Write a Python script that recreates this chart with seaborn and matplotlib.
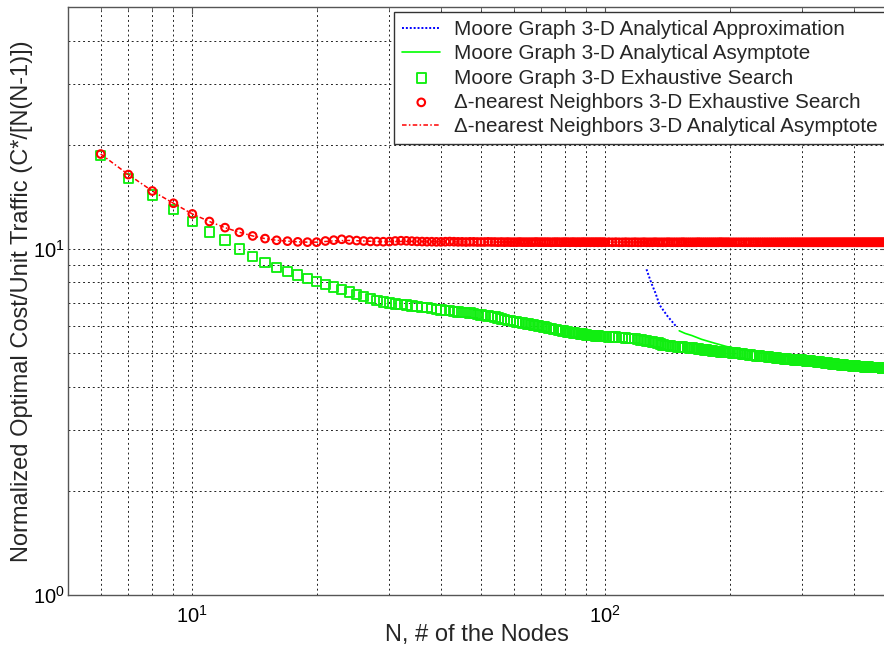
import numpy as np
import matplotlib
matplotlib.use("Agg")
import matplotlib.pyplot as plt
import seaborn as sns
from matplotlib.ticker import LogLocator, NullFormatter, LogFormatterSciNotation

sns.set_theme(style="white")
plt.rcParams["font.family"] = ["Liberation Sans", "DejaVu Sans"]
plt.rcParams["mathtext.fontset"] = "custom"
plt.rcParams["mathtext.rm"] = "Liberation Sans"
plt.rcParams["mathtext.default"] = "regular"

# ---- data -------------------------------------------------------------
# network sizes evaluated by the exhaustive search
nodes = np.concatenate([np.arange(6, 101), np.arange(102, 201, 2), np.arange(203, 480, 3)])

# Moore graph, 3-D, exhaustive search
moore_search = [
    18.6, 16.0, 14.3, 13.0, 12.0, 11.2, 10.6, 10.0, 9.52, 9.15,
    8.85, 8.62, 8.40, 8.21, 8.05, 7.90, 7.76, 7.63, 7.51, 7.38,
    7.29, 7.18, 7.09, 7.02, 6.97,
    6.94, 6.90, 6.88, 6.84, 6.81, 6.78, 6.76, 6.72, 6.69, 6.66,
    6.64, 6.63, 6.60, 6.58, 6.56, 6.54, 6.52, 6.50, 6.47, 6.44,
    6.42, 6.40, 6.38, 6.35, 6.31, 6.28, 6.25, 6.22, 6.20, 6.17,
    6.15, 6.13, 6.11, 6.09, 6.07, 6.05, 6.03, 6.01, 5.98, 5.96,
    5.94, 5.92, 5.90, 5.88, 5.86, 5.84, 5.82, 5.80, 5.79, 5.77,
    5.76, 5.74, 5.73, 5.72, 5.70, 5.69, 5.68, 5.67, 5.65, 5.64,
    5.63, 5.62, 5.62, 5.61, 5.60, 5.60, 5.59, 5.59, 5.58, 5.58,
    # 102 .. 200
    5.57, 5.56, 5.56, 5.55, 5.54, 5.53, 5.52, 5.51, 5.50, 5.48,
    5.46, 5.44, 5.42, 5.40, 5.38, 5.36, 5.34, 5.31, 5.28, 5.26,
    5.25, 5.24, 5.23, 5.22, 5.21, 5.21, 5.20, 5.19, 5.18, 5.17,
    5.17, 5.16, 5.15, 5.14, 5.13, 5.12, 5.11, 5.10, 5.09, 5.08,
    5.07, 5.06, 5.05, 5.05, 5.04, 5.04, 5.03, 5.03, 5.02, 5.02,
    # 203 .. 479
    5.01, 5.00, 4.99, 4.98, 4.97, 4.96, 4.95, 4.94, 4.93, 4.92,
    4.91, 4.90, 4.89, 4.89, 4.88, 4.87, 4.86, 4.85, 4.85, 4.84,
    4.83, 4.83, 4.82, 4.81, 4.81, 4.80, 4.80, 4.79, 4.78, 4.78,
    4.77, 4.77, 4.77, 4.76, 4.76, 4.75, 4.74, 4.74, 4.73, 4.73,
    4.72, 4.71, 4.71, 4.70, 4.70, 4.69, 4.68, 4.68, 4.67, 4.66,
    4.66, 4.65, 4.65, 4.64, 4.64, 4.63, 4.63, 4.62, 4.62, 4.61,
    4.61, 4.61, 4.60, 4.60, 4.60, 4.59, 4.59, 4.59, 4.58, 4.58,
    4.58, 4.57, 4.57, 4.57, 4.56, 4.56, 4.56, 4.56, 4.55, 4.55,
    4.55, 4.55, 4.55, 4.54, 4.54, 4.54, 4.54, 4.54, 4.53, 4.53,
    4.53, 4.53, 4.53,
]

# Delta-nearest neighbors, 3-D, exhaustive search
nearest_search = [
    18.8, 16.4, 14.7, 13.55, 12.62, 12.0, 11.52, 11.17, 10.90, 10.71,
    10.59, 10.53, 10.48, 10.46, 10.46, 10.54, 10.60, 10.66, 10.61, 10.57,
    10.54, 10.51, 10.50, 10.49, 10.50, 10.54, 10.56, 10.55, 10.53, 10.51,
    10.50, 10.49, 10.49, 10.48, 10.48, 10.49, 10.50, 10.49, 10.48, 10.48,
    10.47, 10.48, 10.48, 10.47, 10.47, 10.47, 10.48, 10.47, 10.47, 10.46,
    10.47, 10.46, 10.47, 10.46, 10.46, 10.46, 10.47, 10.46, 10.46, 10.46,
    10.46, 10.46, 10.47, 10.46, 10.46, 10.46, 10.46, 10.46, 10.45, 10.46,
    10.46, 10.46, 10.45, 10.46, 10.46, 10.46, 10.45, 10.46, 10.46, 10.45,
    10.46, 10.45, 10.46, 10.46, 10.45, 10.46, 10.45, 10.46, 10.45, 10.46,
    10.45, 10.46, 10.45, 10.46, 10.45,
    # 102 .. 200
    10.46, 10.45, 10.46, 10.45, 10.45, 10.46, 10.45, 10.45, 10.46, 10.45,
    10.45, 10.46, 10.45, 10.45, 10.45, 10.46, 10.45, 10.45, 10.45, 10.45,
    10.46, 10.45, 10.45, 10.45, 10.45, 10.45, 10.46, 10.45, 10.45, 10.45,
    10.45, 10.45, 10.45, 10.46, 10.45, 10.45, 10.45, 10.45, 10.45, 10.45,
    10.45, 10.45, 10.45, 10.45, 10.46, 10.45, 10.45, 10.45, 10.45, 10.45,
    # 203 .. 479
    10.45, 10.45, 10.45, 10.45, 10.45, 10.45, 10.45, 10.45, 10.45, 10.45,
    10.45, 10.45, 10.45, 10.45, 10.45, 10.45, 10.45, 10.45, 10.45, 10.45,
    10.45, 10.45, 10.45, 10.45, 10.45, 10.45, 10.45, 10.45, 10.45, 10.45,
    10.45, 10.45, 10.45, 10.45, 10.45, 10.45, 10.45, 10.45, 10.45, 10.45,
    10.45, 10.45, 10.45, 10.45, 10.45, 10.45, 10.45, 10.45, 10.45, 10.45,
    10.45, 10.45, 10.45, 10.45, 10.45, 10.45, 10.45, 10.45, 10.45, 10.45,
    10.45, 10.45, 10.45, 10.45, 10.45, 10.45, 10.45, 10.45, 10.45, 10.45,
    10.45, 10.45, 10.45, 10.45, 10.45, 10.45, 10.45, 10.45, 10.45, 10.45,
    10.45, 10.45, 10.45, 10.45, 10.45, 10.45, 10.45, 10.45, 10.45, 10.45,
    10.45, 10.45, 10.45,
]

# Moore graph analytical approximation (valid only over a short range)
approx_nodes = [125.8, 129.3, 132.3, 135.3, 141.2, 148.6]
approx_cost = [8.73, 7.96, 7.45, 6.89, 6.41, 5.96]

# Moore graph analytical asymptote
moore_asym_nodes = [151, 156, 162, 171, 183, 197, 214, 240, 280, 330, 400, 479]
moore_asym_cost = [5.80, 5.70, 5.62, 5.48, 5.35, 5.22, 5.12, 5.00, 4.88, 4.76, 4.64, 4.56]

# Delta-nearest neighbors analytical asymptote
nearest_asym_nodes = [6, 7, 8, 9, 10, 11, 12, 13, 14, 15, 16, 17, 18, 19, 20,
                      22, 24, 26, 28, 30, 35, 40, 50, 60, 80, 100, 150, 200, 300, 479]
nearest_asym_cost = [18.8, 16.4, 14.7, 13.55, 12.62, 12.0, 11.52, 11.17, 10.90, 10.71,
                     10.59, 10.53, 10.48, 10.46, 10.46, 10.55, 10.58, 10.54, 10.50, 10.50,
                     10.51, 10.48, 10.47, 10.46, 10.46, 10.46, 10.46, 10.45, 10.45, 10.45]

assert len(nodes) == len(moore_search) == len(nearest_search)

labels = [
    "Moore Graph 3-D Analytical Approximation",
    "Moore Graph 3-D Analytical Asymptote",
    "Moore Graph 3-D Exhaustive Search",
    "\u0394-nearest Neighbors 3-D Exhaustive Search",
    "\u0394-nearest Neighbors 3-D Analytical Asymptote",
]

# ---- figure ----------------------------------------------------------
W, H = 884, 656
fig = plt.figure(figsize=(W / 100, H / 100), dpi=100)
fig.patch.set_facecolor("white")
ax = fig.add_axes([68 / W, 61 / H, (W - 68) / W + 0.003, (595 - 7) / H])
ax.set_facecolor("white")

sns.lineplot(x=approx_nodes, y=approx_cost, ax=ax, color="#0000ff",
             linestyle=(0, (1, 1)), linewidth=1.4, label=labels[0],
             estimator=None, sort=False)
sns.lineplot(x=moore_asym_nodes, y=moore_asym_cost, ax=ax, color="#00ff00",
             linestyle="-", linewidth=1.2, label=labels[1],
             estimator=None, sort=False)
sns.scatterplot(x=nodes, y=moore_search, ax=ax, marker="s", s=46,
                color="#00ff00", facecolor="none", edgecolor="#11ee11",
                linewidth=1.35, label=labels[2], zorder=3)
sns.scatterplot(x=nodes, y=nearest_search, ax=ax, marker="o", s=30,
                color="#ff0000", facecolor="none", edgecolor="#ff0000",
                linewidth=1.5, label=labels[3], zorder=4)
sns.lineplot(x=nearest_asym_nodes, y=nearest_asym_cost, ax=ax, color="#ff0000",
             linestyle=(0, (3, 1.5, 1, 1.5)), linewidth=1.1, label=labels[4],
             estimator=None, sort=False, zorder=5)

ax.set_xscale("log")
ax.set_yscale("log")
ax.set_xlim(5, 480)
ax.set_ylim(1, 50)

for axis in (ax.xaxis, ax.yaxis):
    axis.set_major_locator(LogLocator(base=10))
    axis.set_minor_locator(LogLocator(base=10, subs=np.arange(2, 10)))
    axis.set_major_formatter(LogFormatterSciNotation())
    axis.set_minor_formatter(NullFormatter())

ax.set_axisbelow(True)
ax.grid(True, which="both", color="#222222", linestyle=(0, (2, 3)), linewidth=0.7)

ax.tick_params(which="both", direction="in", top=True, right=True,
               colors="#555555", labelcolor="black", labelsize=14.5)
ax.tick_params(which="major", length=5, width=0.8)
ax.tick_params(which="minor", length=3, width=0.6)
ax.tick_params(axis="x", which="major", pad=7)
ax.tick_params(axis="y", which="major", pad=2)
for sp in ax.spines.values():
    sp.set_color("#555555")
    sp.set_linewidth(1.0)

ax.set_xlabel("N, # of the Nodes", fontsize=17)
ax.set_ylabel("Normalized Optimal Cost/Unit Traffic (C*/[N(N-1)])", fontsize=17)
ax.xaxis.set_label_coords(0.5, -(624 - 595) / 588)
ax.yaxis.set_label_coords(-(68 - 33) / 816, 0.5)

leg = ax.legend(loc="upper right", bbox_to_anchor=(1.002, 1 - 12 / H),
                bbox_transform=fig.transFigure, fancybox=False, framealpha=1,
                edgecolor="#333333", fontsize=14.9, labelspacing=0.25,
                handlelength=1.85, handletextpad=0.65, borderpad=0.4,
                borderaxespad=0, scatterpoints=1)
leg.get_frame().set_linewidth(1.0)

fig.savefig("out.png", dpi=100, facecolor="white")
